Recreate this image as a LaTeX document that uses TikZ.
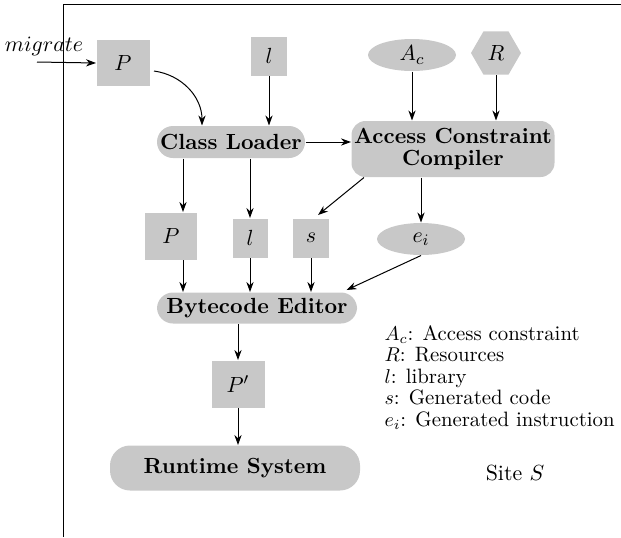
\documentclass[11pt,tikz,border=0pt]{standalone}
\usepackage{amsmath}
\usepackage{amssymb}
\usepackage{tikz}
\usetikzlibrary{arrows.meta, shapes.geometric}
\definecolor{boxgray}{RGB}{200,200,200}

\begin{document}
\begin{tikzpicture} [x = 0.5pt, y = -0.5pt, line width =0.5pt, >={Stealth[length=5pt, width=3.6pt, inset=1.6pt]}, item/.style = {fill=boxgray, inner sep =0pt}, stage/.style = {fill=boxgray, font=\bfseries, align=center, inner sep =0pt}]
\useasboundingbox (0,0) rectangle (621,537);
\draw (63,537) -- (63,4) -- (621,4);
\node (mig) at (44,46) {$migrate$};
\coordinate (in) at (37,62);
\node[item, minimum width =26.5pt, minimum height =23pt](p1) at (123,63) {$P$};
\node[item, minimum width =18pt, minimum height =19.5pt](l1) at (269,56) {$l$};
\node[item, ellipse, minimum width =44pt, minimum height =16pt](ac) at (412,55) {$A_c$};
\node[item, regular polygon, regular polygon sides =6, minimum size =25pt](r) at (496,53) {$R$};
\node[stage, rounded corners =8pt, minimum width =74pt, minimum height =16pt](cl) at (231,142) {Class Loader};
\node[stage, rounded corners =7pt, minimum width =101.5pt, minimum height =28pt](acc) at (453,149) {Access Constraint\\[-3pt]Compiler};
\node[item, minimum width =26pt, minimum height =23.5pt](p2) at (171,236) {$P$};
\node[item, minimum width =17.5pt, minimum height =19.5pt](l2) at (250,238) {$l$};
\node[item, minimum width =18pt, minimum height =19.5pt](s) at (311,238) {$s$};
\node[item, ellipse, minimum width =44pt, minimum height =16pt](ei) at (421,239) {$e_i$};
\node[stage, rounded corners =8pt, minimum width =100pt, minimum height =15.5pt](be) at (257,308) {Bytecode Editor};
\node[item, minimum width =26.5pt, minimum height =23.5pt](pp) at (238,384) {$P'$};
\node[stage, rounded corners =10pt, minimum width =125pt, minimum height =22.5pt](rt) at (235,468) {Runtime System};
\node[anchor =north west, inner sep =0pt, align =left, font ={\fontsize{10.4}{10.75}\selectfont}](key) at (384,325) {$A_c$: Access constraint\\ $R$: Resources\\ $l$: library\\ $s$: Generated code\\ $e_i$: Generated instruction};
\node (site) at (515,473) {Site $S$};
\coordinate (pa) at ([xshift=6pt]p2.north);
% into the loader
\draw[->] (in) -- (p1.west);
\draw[->] ([xshift=2pt, yshift=-4pt]p1.east) to[out=-8, in=90] ([xshift=-14.5pt]cl.north);
\draw[->] (l1.south) -- (l1.south |- cl.north);
\draw[->] (cl.east) -- (cl.east -| acc.west);
\draw[->] (ac.south) -- (ac.south |- acc.north);
\draw[->] (r.south) -- (r.south |- acc.north);
% second row
\draw[->] (cl.south -| pa) -- (pa);
\draw[->] (cl.south -| l2.north) -- (l2.north);
\draw[->] ([xshift=6.5pt]acc.south west) -- ([xshift=3.5pt, yshift=1.5pt]s.north);
\draw[->] (ei.north |- acc.south) -- (ei.north);
% into the editor
\draw[->] (pa |- p2.south) -- (pa |- be.north);
\draw[->] (l2.south) -- (l2.south |- be.north);
\draw[->] (s.south) -- (s.south |- be.north);
\draw[->] (ei.south) -- ([xshift=-5.5pt, yshift=1pt]be.north east);
\draw[->] (be.south -| pp.north) -- (pp.north);
\draw[->] (pp.south) -- (pp.south |- rt.north);
\end{tikzpicture}
\end{document}
